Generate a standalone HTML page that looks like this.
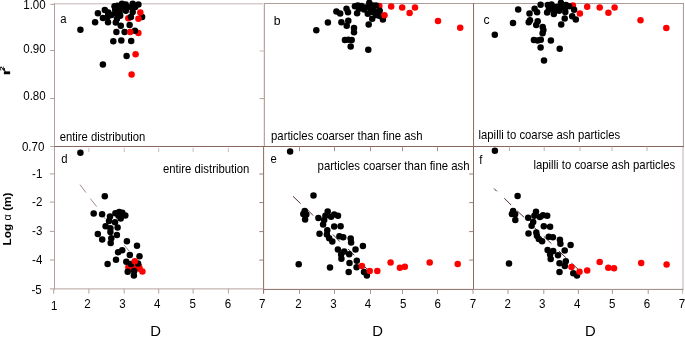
<!DOCTYPE html>
<html><head><meta charset="utf-8"><title>figure</title>
<style>
html,body{margin:0;padding:0;background:#fff;}
svg{display:block;}
text{font-family:"Liberation Sans",sans-serif;fill:#000;}
</style></head><body>
<svg width="685" height="337" viewBox="0 0 685 337">
<rect width="685" height="337" fill="#fff"/>
<line x1="54" y1="3.8" x2="264.5" y2="3.8" stroke="#c4b8b5" stroke-width="1" />
<line x1="264.5" y1="3.5" x2="683.9" y2="3.5" stroke="#ad9c99" stroke-width="1" />
<line x1="54.5" y1="3.3" x2="54.5" y2="289.4" stroke="#b3a09c" stroke-width="1" />
<line x1="264.5" y1="3.0" x2="264.5" y2="146.5" stroke="#b6a5a3" stroke-width="1" />
<line x1="263.5" y1="3.0" x2="263.5" y2="146.5" stroke="#efe9e8" stroke-width="1" />
<line x1="473.55" y1="3.0" x2="473.55" y2="146.5" stroke="#8a6a63" stroke-width="1" />
<line x1="263.6" y1="146.5" x2="263.6" y2="293.8" stroke="#8a6a63" stroke-width="1" />
<line x1="473.5" y1="146.5" x2="473.5" y2="289.4" stroke="#8a6a63" stroke-width="1" />
<line x1="473.0" y1="289.4" x2="473.0" y2="293.8" stroke="#a8948f" stroke-width="1" />
<line x1="683.4" y1="3.0" x2="683.4" y2="146.5" stroke="#a89492" stroke-width="1" />
<line x1="683.0" y1="146.5" x2="683.0" y2="289.4" stroke="#bfb0ad" stroke-width="1" />
<line x1="682.6" y1="289.4" x2="682.6" y2="293.8" stroke="#bfb0ad" stroke-width="1" />
<line x1="54" y1="146.5" x2="683.9" y2="146.5" stroke="#86665e" stroke-width="1" />
<line x1="54" y1="288.9" x2="263.6" y2="288.9" stroke="#b3a29e" stroke-width="1" />
<line x1="263.6" y1="289.4" x2="473.5" y2="289.4" stroke="#8a6a63" stroke-width="1" />
<line x1="473.5" y1="289.4" x2="683.4" y2="289.4" stroke="#9a8682" stroke-width="1" />
<line x1="50.3" y1="4.4" x2="54.5" y2="4.4" stroke="#b3a09c" stroke-width="1" />
<line x1="50.3" y1="50.5" x2="54.5" y2="50.5" stroke="#b3a09c" stroke-width="1" />
<line x1="50.3" y1="98.5" x2="54.5" y2="98.5" stroke="#b3a09c" stroke-width="1" />
<line x1="50.3" y1="146.5" x2="54.5" y2="146.5" stroke="#b3a09c" stroke-width="1" />
<line x1="49.8" y1="173.9" x2="54.5" y2="173.9" stroke="#b3a09c" stroke-width="1" />
<line x1="49.8" y1="202.1" x2="54.5" y2="202.1" stroke="#b3a09c" stroke-width="1" />
<line x1="49.8" y1="231.4" x2="54.5" y2="231.4" stroke="#b3a09c" stroke-width="1" />
<line x1="49.8" y1="260.0" x2="54.5" y2="260.0" stroke="#b3a09c" stroke-width="1" />
<line x1="49.8" y1="288.9" x2="54.5" y2="288.9" stroke="#b3a09c" stroke-width="1" />
<line x1="53.7" y1="289" x2="53.7" y2="293.8" stroke="#b3a09c" stroke-width="1" />
<line x1="259.3" y1="174.0" x2="263.6" y2="174.0" stroke="#9a7f79" stroke-width="1" />
<line x1="259.3" y1="202.6" x2="263.6" y2="202.6" stroke="#9a7f79" stroke-width="1" />
<line x1="259.3" y1="231.6" x2="263.6" y2="231.6" stroke="#9a7f79" stroke-width="1" />
<line x1="259.3" y1="260.1" x2="263.6" y2="260.1" stroke="#9a7f79" stroke-width="1" />
<line x1="469.2" y1="174.0" x2="473.5" y2="174.0" stroke="#9a7f79" stroke-width="1" />
<line x1="469.2" y1="202.6" x2="473.5" y2="202.6" stroke="#9a7f79" stroke-width="1" />
<line x1="469.2" y1="231.6" x2="473.5" y2="231.6" stroke="#9a7f79" stroke-width="1" />
<line x1="469.2" y1="260.1" x2="473.5" y2="260.1" stroke="#9a7f79" stroke-width="1" />
<line x1="259.6" y1="51.0" x2="264.5" y2="51.0" stroke="#c5b8b5" stroke-width="1" />
<line x1="259.6" y1="98.6" x2="264.5" y2="98.6" stroke="#b3a09c" stroke-width="1" />
<line x1="88.9" y1="147.8" x2="88.9" y2="152.0" stroke="#c9bdba" stroke-width="1" />
<line x1="124.2" y1="147.8" x2="124.2" y2="152.0" stroke="#c9bdba" stroke-width="1" />
<line x1="158.7" y1="147.8" x2="158.7" y2="152.0" stroke="#c9bdba" stroke-width="1" />
<line x1="193.1" y1="147.8" x2="193.1" y2="152.0" stroke="#c9bdba" stroke-width="1" />
<line x1="228.4" y1="147.8" x2="228.4" y2="152.0" stroke="#c9bdba" stroke-width="1" />
<line x1="299.5" y1="146.5" x2="299.5" y2="151.2" stroke="#a88f89" stroke-width="1" />
<line x1="334.5" y1="146.5" x2="334.5" y2="151.2" stroke="#a88f89" stroke-width="1" />
<line x1="370.5" y1="146.5" x2="370.5" y2="151.2" stroke="#a88f89" stroke-width="1" />
<line x1="402.5" y1="146.5" x2="402.5" y2="151.2" stroke="#a88f89" stroke-width="1" />
<line x1="437.5" y1="146.5" x2="437.5" y2="151.2" stroke="#a88f89" stroke-width="1" />
<line x1="509.5" y1="146.5" x2="509.5" y2="151.0" stroke="#c2aea9" stroke-width="1" />
<line x1="544.2" y1="146.5" x2="544.2" y2="151.0" stroke="#c2aea9" stroke-width="1" />
<line x1="580.0" y1="146.5" x2="580.0" y2="151.0" stroke="#c2aea9" stroke-width="1" />
<line x1="612.0" y1="146.5" x2="612.0" y2="151.0" stroke="#c2aea9" stroke-width="1" />
<line x1="647.0" y1="146.5" x2="647.0" y2="151.0" stroke="#c2aea9" stroke-width="1" />
<line x1="88.9" y1="288.9" x2="88.9" y2="293.6" stroke="#b3a29e" stroke-width="1" />
<line x1="124.2" y1="288.9" x2="124.2" y2="293.6" stroke="#b3a29e" stroke-width="1" />
<line x1="158.7" y1="288.9" x2="158.7" y2="293.6" stroke="#b3a29e" stroke-width="1" />
<line x1="193.1" y1="288.9" x2="193.1" y2="293.6" stroke="#b3a29e" stroke-width="1" />
<line x1="228.4" y1="288.9" x2="228.4" y2="293.6" stroke="#b3a29e" stroke-width="1" />
<line x1="299.5" y1="289.4" x2="299.5" y2="293.8" stroke="#a8948f" stroke-width="1" />
<line x1="334.5" y1="289.4" x2="334.5" y2="293.8" stroke="#a8948f" stroke-width="1" />
<line x1="370.5" y1="289.4" x2="370.5" y2="293.8" stroke="#a8948f" stroke-width="1" />
<line x1="402.5" y1="289.4" x2="402.5" y2="293.8" stroke="#a8948f" stroke-width="1" />
<line x1="437.5" y1="289.4" x2="437.5" y2="293.8" stroke="#a8948f" stroke-width="1" />
<line x1="508.0" y1="289.4" x2="508.0" y2="293.8" stroke="#a8948f" stroke-width="1" />
<line x1="543.8" y1="289.4" x2="543.8" y2="293.8" stroke="#a8948f" stroke-width="1" />
<line x1="578.4" y1="289.4" x2="578.4" y2="293.8" stroke="#a8948f" stroke-width="1" />
<line x1="612.4" y1="289.4" x2="612.4" y2="293.8" stroke="#a8948f" stroke-width="1" />
<line x1="648.2" y1="289.4" x2="648.2" y2="293.8" stroke="#a8948f" stroke-width="1" />
<line x1="80" y1="184.6" x2="85.9" y2="192.6" stroke="#8a7068" stroke-width="0.8" />
<line x1="90.3" y1="198.6" x2="96.6" y2="206.6" stroke="#8a7068" stroke-width="0.8" />
<line x1="102.2" y1="214.5" x2="105.4" y2="219" stroke="#8a7068" stroke-width="0.8" />
<line x1="124.1" y1="244.8" x2="129.2" y2="251.3" stroke="#8a7068" stroke-width="0.8" />
<line x1="293" y1="196.3" x2="300.6" y2="203.6" stroke="#50302b" stroke-width="1.0" />
<line x1="306.6" y1="208.9" x2="313.1" y2="215.5" stroke="#50302b" stroke-width="1.0" />
<line x1="332.9" y1="234.5" x2="339.8" y2="241.6" stroke="#50302b" stroke-width="1.0" />
<line x1="348" y1="248.9" x2="354.3" y2="255.2" stroke="#50302b" stroke-width="1.0" />
<line x1="361" y1="263" x2="367.6" y2="269.6" stroke="#50302b" stroke-width="1.0" />
<line x1="494" y1="188.5" x2="496.8" y2="191.3" stroke="#50302b" stroke-width="1.0" />
<line x1="504.3" y1="198.2" x2="511.2" y2="205.1" stroke="#50302b" stroke-width="1.0" />
<line x1="517.1" y1="210.8" x2="524.2" y2="217.4" stroke="#50302b" stroke-width="1.0" />
<line x1="534.4" y1="227.6" x2="538.8" y2="232" stroke="#50302b" stroke-width="1.0" />
<line x1="543.8" y1="236.4" x2="551.4" y2="243.6" stroke="#50302b" stroke-width="1.0" />
<line x1="558.9" y1="251" x2="565.8" y2="257.6" stroke="#50302b" stroke-width="1.0" />
<line x1="571.4" y1="263" x2="578.4" y2="269.5" stroke="#50302b" stroke-width="1.0" />
<circle cx="128.3" cy="18.2" r="3.25" fill="#fe0000"/>
<circle cx="138.4" cy="32.9" r="3.25" fill="#fe0000"/>
<circle cx="80.4" cy="29.7" r="3.25" fill="#000"/>
<circle cx="95.1" cy="22.3" r="3.25" fill="#000"/>
<circle cx="97.9" cy="13.2" r="3.25" fill="#000"/>
<circle cx="102.9" cy="17.9" r="3.25" fill="#000"/>
<circle cx="104.8" cy="10.0" r="3.25" fill="#000"/>
<circle cx="108.3" cy="12.5" r="3.25" fill="#000"/>
<circle cx="107.6" cy="16.9" r="3.25" fill="#000"/>
<circle cx="108" cy="22.3" r="3.25" fill="#000"/>
<circle cx="111.4" cy="15.1" r="3.25" fill="#000"/>
<circle cx="114.5" cy="6.3" r="3.25" fill="#000"/>
<circle cx="115.2" cy="10" r="3.25" fill="#000"/>
<circle cx="115.8" cy="22.6" r="3.25" fill="#000"/>
<circle cx="117" cy="18.8" r="3.25" fill="#000"/>
<circle cx="120.2" cy="15.7" r="3.25" fill="#000"/>
<circle cx="119.6" cy="11.9" r="3.25" fill="#000"/>
<circle cx="120.8" cy="25.7" r="3.25" fill="#000"/>
<circle cx="122" cy="3.8" r="3.25" fill="#000"/>
<circle cx="122.7" cy="7.5" r="3.25" fill="#000"/>
<circle cx="125.8" cy="10.7" r="3.25" fill="#000"/>
<circle cx="127.7" cy="6.9" r="3.25" fill="#000"/>
<circle cx="130.9" cy="16.9" r="3.25" fill="#000"/>
<circle cx="129.6" cy="25.1" r="3.25" fill="#000"/>
<circle cx="132.7" cy="3.8" r="3.25" fill="#000"/>
<circle cx="132.1" cy="7.5" r="3.25" fill="#000"/>
<circle cx="132.7" cy="11.9" r="3.25" fill="#000"/>
<circle cx="135.2" cy="6.9" r="3.25" fill="#000"/>
<circle cx="138.4" cy="4.4" r="3.25" fill="#000"/>
<circle cx="142.1" cy="16.9" r="3.25" fill="#000"/>
<circle cx="116.4" cy="32" r="3.25" fill="#000"/>
<circle cx="124.6" cy="32" r="3.25" fill="#000"/>
<circle cx="134.9" cy="30.7" r="3.25" fill="#000"/>
<circle cx="113.3" cy="41.2" r="3.25" fill="#000"/>
<circle cx="121.3" cy="40.6" r="3.25" fill="#000"/>
<circle cx="131.2" cy="41" r="3.25" fill="#000"/>
<circle cx="126.6" cy="55.9" r="3.25" fill="#000"/>
<circle cx="102.9" cy="64.5" r="3.25" fill="#000"/>
<circle cx="117.3" cy="5.8" r="3.25" fill="#000"/>
<circle cx="125.7" cy="4.6" r="3.25" fill="#000"/>
<circle cx="108.3" cy="14.9" r="3.25" fill="#000"/>
<circle cx="116.2" cy="13.2" r="3.25" fill="#000"/>
<circle cx="118.4" cy="8.9" r="3.25" fill="#000"/>
<circle cx="140.3" cy="12.5" r="3.25" fill="#fe0000"/>
<circle cx="138.4" cy="18.8" r="3.25" fill="#fe0000"/>
<circle cx="130.2" cy="32" r="3.25" fill="#fe0000"/>
<circle cx="135.6" cy="54.3" r="3.25" fill="#fe0000"/>
<circle cx="131.6" cy="74.4" r="3.25" fill="#fe0000"/>
<circle cx="379.3" cy="6.1" r="3.25" fill="#fe0000"/>
<circle cx="316.3" cy="30.3" r="3.25" fill="#000"/>
<circle cx="327.9" cy="22.6" r="3.25" fill="#000"/>
<circle cx="336.4" cy="11.6" r="3.25" fill="#000"/>
<circle cx="340.2" cy="13.6" r="3.25" fill="#000"/>
<circle cx="341.4" cy="22.3" r="3.25" fill="#000"/>
<circle cx="346.5" cy="8.8" r="3.25" fill="#000"/>
<circle cx="348" cy="12.3" r="3.25" fill="#000"/>
<circle cx="348.3" cy="20.7" r="3.25" fill="#000"/>
<circle cx="346.7" cy="25.7" r="3.25" fill="#000"/>
<circle cx="354" cy="27.9" r="3.25" fill="#000"/>
<circle cx="354" cy="32.2" r="3.25" fill="#000"/>
<circle cx="344.9" cy="40" r="3.25" fill="#000"/>
<circle cx="348.3" cy="39.8" r="3.25" fill="#000"/>
<circle cx="351.7" cy="40" r="3.25" fill="#000"/>
<circle cx="354.9" cy="6.3" r="3.25" fill="#000"/>
<circle cx="357.8" cy="5.6" r="3.25" fill="#000"/>
<circle cx="361.5" cy="6" r="3.25" fill="#000"/>
<circle cx="357.1" cy="13.2" r="3.25" fill="#000"/>
<circle cx="359" cy="8.8" r="3.25" fill="#000"/>
<circle cx="365.3" cy="7.5" r="3.25" fill="#000"/>
<circle cx="369.3" cy="2.8" r="3.25" fill="#000"/>
<circle cx="369.1" cy="6.3" r="3.25" fill="#000"/>
<circle cx="367.8" cy="13.8" r="3.25" fill="#000"/>
<circle cx="368.7" cy="24.5" r="3.25" fill="#000"/>
<circle cx="372.2" cy="18.8" r="3.25" fill="#000"/>
<circle cx="372.8" cy="5.6" r="3.25" fill="#000"/>
<circle cx="372.8" cy="11.9" r="3.25" fill="#000"/>
<circle cx="376" cy="5.6" r="3.25" fill="#000"/>
<circle cx="376" cy="15" r="3.25" fill="#000"/>
<circle cx="379.7" cy="10.7" r="3.25" fill="#000"/>
<circle cx="379.1" cy="15.7" r="3.25" fill="#000"/>
<circle cx="382.9" cy="19.5" r="3.25" fill="#000"/>
<circle cx="350.7" cy="46.6" r="3.25" fill="#000"/>
<circle cx="368.3" cy="49.7" r="3.25" fill="#000"/>
<circle cx="364.1" cy="9.5" r="3.25" fill="#000"/>
<circle cx="370.8" cy="9.6" r="3.25" fill="#000"/>
<circle cx="373.9" cy="11.0" r="3.25" fill="#000"/>
<circle cx="384.5" cy="15.2" r="3.25" fill="#fe0000"/>
<circle cx="391.2" cy="6.5" r="3.25" fill="#fe0000"/>
<circle cx="402.2" cy="7.4" r="3.25" fill="#fe0000"/>
<circle cx="409.6" cy="13" r="3.25" fill="#fe0000"/>
<circle cx="415" cy="7.5" r="3.25" fill="#fe0000"/>
<circle cx="438" cy="21.0" r="3.25" fill="#fe0000"/>
<circle cx="460.2" cy="27.7" r="3.25" fill="#fe0000"/>
<circle cx="572.9" cy="5.4" r="3.25" fill="#fe0000"/>
<circle cx="494.8" cy="34.8" r="3.25" fill="#000"/>
<circle cx="513" cy="23" r="3.25" fill="#000"/>
<circle cx="518.2" cy="9.4" r="3.25" fill="#000"/>
<circle cx="529.5" cy="13.6" r="3.25" fill="#000"/>
<circle cx="528.7" cy="22.3" r="3.25" fill="#000"/>
<circle cx="530.0" cy="20.3" r="3.25" fill="#000"/>
<circle cx="534.6" cy="8.8" r="3.25" fill="#000"/>
<circle cx="537.1" cy="12.3" r="3.25" fill="#000"/>
<circle cx="537.7" cy="21.3" r="3.25" fill="#000"/>
<circle cx="536.2" cy="25.1" r="3.25" fill="#000"/>
<circle cx="540.6" cy="4.8" r="3.25" fill="#000"/>
<circle cx="542.7" cy="27" r="3.25" fill="#000"/>
<circle cx="543.4" cy="30.1" r="3.25" fill="#000"/>
<circle cx="542.6" cy="33.3" r="3.25" fill="#000"/>
<circle cx="533.9" cy="40" r="3.25" fill="#000"/>
<circle cx="537.6" cy="40.5" r="3.25" fill="#000"/>
<circle cx="540.8" cy="39.7" r="3.25" fill="#000"/>
<circle cx="550.9" cy="40.5" r="3.25" fill="#000"/>
<circle cx="547.1" cy="12.6" r="3.25" fill="#000"/>
<circle cx="547.8" cy="5" r="3.25" fill="#000"/>
<circle cx="551.5" cy="4.4" r="3.25" fill="#000"/>
<circle cx="551.5" cy="8.2" r="3.25" fill="#000"/>
<circle cx="553.8" cy="14.1" r="3.25" fill="#000"/>
<circle cx="556.5" cy="6.9" r="3.25" fill="#000"/>
<circle cx="559.1" cy="10.7" r="3.25" fill="#000"/>
<circle cx="560.9" cy="2.8" r="3.25" fill="#000"/>
<circle cx="561.6" cy="6.3" r="3.25" fill="#000"/>
<circle cx="561.2" cy="24.5" r="3.25" fill="#000"/>
<circle cx="564.7" cy="18.6" r="3.25" fill="#000"/>
<circle cx="565.3" cy="11.9" r="3.25" fill="#000"/>
<circle cx="566" cy="5" r="3.25" fill="#000"/>
<circle cx="569.1" cy="6.3" r="3.25" fill="#000"/>
<circle cx="572.2" cy="16.3" r="3.25" fill="#000"/>
<circle cx="574.1" cy="9.7" r="3.25" fill="#000"/>
<circle cx="575.8" cy="19.5" r="3.25" fill="#000"/>
<circle cx="540.6" cy="47.6" r="3.25" fill="#000"/>
<circle cx="559.7" cy="48.8" r="3.25" fill="#000"/>
<circle cx="544" cy="60.5" r="3.25" fill="#000"/>
<circle cx="548.9" cy="9.4" r="3.25" fill="#000"/>
<circle cx="560.0" cy="8.3" r="3.25" fill="#000"/>
<circle cx="564.9" cy="8.0" r="3.25" fill="#000"/>
<circle cx="555.0" cy="10.0" r="3.25" fill="#000"/>
<circle cx="579.9" cy="13.5" r="3.25" fill="#fe0000"/>
<circle cx="587.2" cy="6.7" r="3.25" fill="#fe0000"/>
<circle cx="599.7" cy="7.4" r="3.25" fill="#fe0000"/>
<circle cx="608.4" cy="12.8" r="3.25" fill="#fe0000"/>
<circle cx="614.6" cy="7.4" r="3.25" fill="#fe0000"/>
<circle cx="640.5" cy="20.3" r="3.25" fill="#fe0000"/>
<circle cx="666.3" cy="28" r="3.25" fill="#fe0000"/>
<circle cx="128.4" cy="267.3" r="3.25" fill="#fe0000"/>
<circle cx="139" cy="266.3" r="3.25" fill="#fe0000"/>
<circle cx="134.1" cy="267.6" r="3.25" fill="#fe0000"/>
<circle cx="139.6" cy="268.8" r="3.25" fill="#fe0000"/>
<circle cx="131.5" cy="268.3" r="3.25" fill="#fe0000"/>
<circle cx="80.4" cy="152.7" r="3.25" fill="#000"/>
<circle cx="104.8" cy="196.3" r="3.25" fill="#000"/>
<circle cx="93.7" cy="213.5" r="3.25" fill="#000"/>
<circle cx="102.1" cy="214.2" r="3.25" fill="#000"/>
<circle cx="110" cy="216.5" r="3.25" fill="#000"/>
<circle cx="115.4" cy="213.3" r="3.25" fill="#000"/>
<circle cx="119.2" cy="212" r="3.25" fill="#000"/>
<circle cx="122.3" cy="212.7" r="3.25" fill="#000"/>
<circle cx="125.3" cy="215.6" r="3.25" fill="#000"/>
<circle cx="120.7" cy="218.5" r="3.25" fill="#000"/>
<circle cx="118.5" cy="215.7" r="3.25" fill="#000"/>
<circle cx="109" cy="221" r="3.25" fill="#000"/>
<circle cx="115" cy="222.2" r="3.25" fill="#000"/>
<circle cx="105.6" cy="226.3" r="3.25" fill="#000"/>
<circle cx="110.4" cy="228.2" r="3.25" fill="#000"/>
<circle cx="117.6" cy="227.6" r="3.25" fill="#000"/>
<circle cx="110.4" cy="232" r="3.25" fill="#000"/>
<circle cx="116.9" cy="235" r="3.25" fill="#000"/>
<circle cx="97.8" cy="233.9" r="3.25" fill="#000"/>
<circle cx="102.2" cy="239.4" r="3.25" fill="#000"/>
<circle cx="111.3" cy="238.2" r="3.25" fill="#000"/>
<circle cx="110.7" cy="243" r="3.25" fill="#000"/>
<circle cx="126.9" cy="241.3" r="3.25" fill="#000"/>
<circle cx="137" cy="245.7" r="3.25" fill="#000"/>
<circle cx="122.2" cy="250.3" r="3.25" fill="#000"/>
<circle cx="118.1" cy="252.2" r="3.25" fill="#000"/>
<circle cx="129.8" cy="255.1" r="3.25" fill="#000"/>
<circle cx="139.5" cy="256.3" r="3.25" fill="#000"/>
<circle cx="116" cy="259.7" r="3.25" fill="#000"/>
<circle cx="107.6" cy="264.1" r="3.25" fill="#000"/>
<circle cx="126.3" cy="261.7" r="3.25" fill="#000"/>
<circle cx="131" cy="263.9" r="3.25" fill="#000"/>
<circle cx="138" cy="263.6" r="3.25" fill="#000"/>
<circle cx="127.7" cy="271.8" r="3.25" fill="#000"/>
<circle cx="134.2" cy="271" r="3.25" fill="#000"/>
<circle cx="133.9" cy="275.6" r="3.25" fill="#000"/>
<circle cx="134.8" cy="261.2" r="3.25" fill="#fe0000"/>
<circle cx="142.4" cy="271.5" r="3.25" fill="#fe0000"/>
<circle cx="290.1" cy="151.6" r="3.25" fill="#000"/>
<circle cx="313.5" cy="195.4" r="3.25" fill="#000"/>
<circle cx="304.7" cy="211" r="3.25" fill="#000"/>
<circle cx="303.3" cy="214" r="3.25" fill="#000"/>
<circle cx="306.3" cy="214.5" r="3.25" fill="#000"/>
<circle cx="305.1" cy="219.5" r="3.25" fill="#000"/>
<circle cx="318.4" cy="218" r="3.25" fill="#000"/>
<circle cx="327.7" cy="211.6" r="3.25" fill="#000"/>
<circle cx="325.4" cy="215.8" r="3.25" fill="#000"/>
<circle cx="331.1" cy="216.7" r="3.25" fill="#000"/>
<circle cx="334.2" cy="214.5" r="3.25" fill="#000"/>
<circle cx="338" cy="215.7" r="3.25" fill="#000"/>
<circle cx="324.2" cy="220.1" r="3.25" fill="#000"/>
<circle cx="323.1" cy="224.4" r="3.25" fill="#000"/>
<circle cx="334.2" cy="226.6" r="3.25" fill="#000"/>
<circle cx="340.6" cy="226.3" r="3.25" fill="#000"/>
<circle cx="327.3" cy="230.3" r="3.25" fill="#000"/>
<circle cx="319.5" cy="233.8" r="3.25" fill="#000"/>
<circle cx="326.9" cy="234.5" r="3.25" fill="#000"/>
<circle cx="329.2" cy="238.2" r="3.25" fill="#000"/>
<circle cx="332.3" cy="241.6" r="3.25" fill="#000"/>
<circle cx="339.4" cy="236.3" r="3.25" fill="#000"/>
<circle cx="343.2" cy="237.3" r="3.25" fill="#000"/>
<circle cx="350.7" cy="238.6" r="3.25" fill="#000"/>
<circle cx="351.1" cy="242.6" r="3.25" fill="#000"/>
<circle cx="362.9" cy="246.1" r="3.25" fill="#000"/>
<circle cx="355.5" cy="249.5" r="3.25" fill="#000"/>
<circle cx="337.9" cy="249.5" r="3.25" fill="#000"/>
<circle cx="344.2" cy="251.4" r="3.25" fill="#000"/>
<circle cx="341.1" cy="254.5" r="3.25" fill="#000"/>
<circle cx="349.2" cy="254.3" r="3.25" fill="#000"/>
<circle cx="341.4" cy="258.8" r="3.25" fill="#000"/>
<circle cx="349.5" cy="263" r="3.25" fill="#000"/>
<circle cx="356.8" cy="260.8" r="3.25" fill="#000"/>
<circle cx="356.6" cy="267.3" r="3.25" fill="#000"/>
<circle cx="348.7" cy="272" r="3.25" fill="#000"/>
<circle cx="364" cy="272.1" r="3.25" fill="#000"/>
<circle cx="366.9" cy="275.6" r="3.25" fill="#000"/>
<circle cx="298.7" cy="264.2" r="3.25" fill="#000"/>
<circle cx="330" cy="267.6" r="3.25" fill="#000"/>
<circle cx="361.9" cy="266" r="3.25" fill="#fe0000"/>
<circle cx="369.7" cy="270.9" r="3.25" fill="#fe0000"/>
<circle cx="377.3" cy="270.9" r="3.25" fill="#fe0000"/>
<circle cx="390.6" cy="262.5" r="3.25" fill="#fe0000"/>
<circle cx="399.9" cy="267.8" r="3.25" fill="#fe0000"/>
<circle cx="404.8" cy="266.7" r="3.25" fill="#fe0000"/>
<circle cx="429.7" cy="262.5" r="3.25" fill="#fe0000"/>
<circle cx="457.7" cy="263.9" r="3.25" fill="#fe0000"/>
<circle cx="494.9" cy="150.8" r="3.25" fill="#000"/>
<circle cx="517.6" cy="195.9" r="3.25" fill="#000"/>
<circle cx="513.1" cy="211.1" r="3.25" fill="#000"/>
<circle cx="511.9" cy="214" r="3.25" fill="#000"/>
<circle cx="515.1" cy="214.3" r="3.25" fill="#000"/>
<circle cx="515.3" cy="220.1" r="3.25" fill="#000"/>
<circle cx="528.2" cy="217.7" r="3.25" fill="#000"/>
<circle cx="536" cy="211.8" r="3.25" fill="#000"/>
<circle cx="534.4" cy="215.7" r="3.25" fill="#000"/>
<circle cx="539.9" cy="217" r="3.25" fill="#000"/>
<circle cx="543" cy="215.2" r="3.25" fill="#000"/>
<circle cx="547.2" cy="215.8" r="3.25" fill="#000"/>
<circle cx="533.2" cy="222" r="3.25" fill="#000"/>
<circle cx="531.6" cy="225.7" r="3.25" fill="#000"/>
<circle cx="543.8" cy="226.3" r="3.25" fill="#000"/>
<circle cx="550.1" cy="226.7" r="3.25" fill="#000"/>
<circle cx="528.5" cy="233.5" r="3.25" fill="#000"/>
<circle cx="536.3" cy="232.6" r="3.25" fill="#000"/>
<circle cx="536.9" cy="235.7" r="3.25" fill="#000"/>
<circle cx="538.8" cy="238.9" r="3.25" fill="#000"/>
<circle cx="542.1" cy="241.2" r="3.25" fill="#000"/>
<circle cx="548.8" cy="236.7" r="3.25" fill="#000"/>
<circle cx="552.9" cy="237.2" r="3.25" fill="#000"/>
<circle cx="559.9" cy="239.8" r="3.25" fill="#000"/>
<circle cx="560.4" cy="243.7" r="3.25" fill="#000"/>
<circle cx="570.6" cy="245" r="3.25" fill="#000"/>
<circle cx="547.6" cy="250" r="3.25" fill="#000"/>
<circle cx="553.2" cy="251" r="3.25" fill="#000"/>
<circle cx="564.7" cy="250.5" r="3.25" fill="#000"/>
<circle cx="550.1" cy="254.4" r="3.25" fill="#000"/>
<circle cx="558" cy="255.3" r="3.25" fill="#000"/>
<circle cx="550.7" cy="259.1" r="3.25" fill="#000"/>
<circle cx="559.5" cy="263.2" r="3.25" fill="#000"/>
<circle cx="565.8" cy="261.3" r="3.25" fill="#000"/>
<circle cx="564.8" cy="266" r="3.25" fill="#000"/>
<circle cx="559.5" cy="272" r="3.25" fill="#000"/>
<circle cx="573.3" cy="273.2" r="3.25" fill="#000"/>
<circle cx="577" cy="275.6" r="3.25" fill="#000"/>
<circle cx="509" cy="263.5" r="3.25" fill="#000"/>
<circle cx="571.5" cy="267" r="3.25" fill="#fe0000"/>
<circle cx="579.5" cy="271.7" r="3.25" fill="#fe0000"/>
<circle cx="587.2" cy="270.4" r="3.25" fill="#fe0000"/>
<circle cx="599.7" cy="262" r="3.25" fill="#fe0000"/>
<circle cx="608.3" cy="267.8" r="3.25" fill="#fe0000"/>
<circle cx="614" cy="268.3" r="3.25" fill="#fe0000"/>
<circle cx="641.2" cy="262.9" r="3.25" fill="#fe0000"/>
<circle cx="666.6" cy="264.6" r="3.25" fill="#fe0000"/>
<text transform="translate(45.7,9.4) scale(0.85,1)" font-size="13.6" text-anchor="end" >1.00</text>
<text transform="translate(45.7,53.4) scale(0.85,1)" font-size="13.6" text-anchor="end" >0.90</text>
<text transform="translate(45.7,99.9) scale(0.85,1)" font-size="13.6" text-anchor="end" >0.80</text>
<text transform="translate(44.4,151.4) scale(0.85,1)" font-size="13.6" text-anchor="end" >0.70</text>
<text transform="translate(42.4,177.5) scale(0.85,1)" font-size="13.6" text-anchor="end" >-1</text>
<text transform="translate(42.4,206.2) scale(0.85,1)" font-size="13.6" text-anchor="end" >-2</text>
<text transform="translate(42.4,235.2) scale(0.85,1)" font-size="13.6" text-anchor="end" >-3</text>
<text transform="translate(42.4,264.20000000000005) scale(0.85,1)" font-size="13.6" text-anchor="end" >-4</text>
<text transform="translate(41.8,294.2) scale(0.85,1)" font-size="13.6" text-anchor="end" >-5</text>
<text transform="translate(87.4,308.0) scale(0.85,1)" font-size="13.6" text-anchor="middle" >2</text>
<text transform="translate(122.4,308.0) scale(0.85,1)" font-size="13.6" text-anchor="middle" >3</text>
<text transform="translate(157.3,308.0) scale(0.85,1)" font-size="13.6" text-anchor="middle" >4</text>
<text transform="translate(192.7,308.0) scale(0.85,1)" font-size="13.6" text-anchor="middle" >5</text>
<text transform="translate(228.0,308.0) scale(0.85,1)" font-size="13.6" text-anchor="middle" >6</text>
<text transform="translate(262.2,308.0) scale(0.85,1)" font-size="13.6" text-anchor="middle" >7</text>
<text transform="translate(54.1,310.3) scale(0.85,1)" font-size="13.6" text-anchor="middle" >1</text>
<text transform="translate(298.5,308.0) scale(0.85,1)" font-size="13.6" text-anchor="middle" >2</text>
<text transform="translate(333.5,308.0) scale(0.85,1)" font-size="13.6" text-anchor="middle" >3</text>
<text transform="translate(368.0,308.0) scale(0.85,1)" font-size="13.6" text-anchor="middle" >4</text>
<text transform="translate(403.2,308.0) scale(0.85,1)" font-size="13.6" text-anchor="middle" >5</text>
<text transform="translate(437.6,308.0) scale(0.85,1)" font-size="13.6" text-anchor="middle" >6</text>
<text transform="translate(473.0,308.0) scale(0.85,1)" font-size="13.6" text-anchor="middle" >7</text>
<text transform="translate(507.6,308.0) scale(0.85,1)" font-size="13.6" text-anchor="middle" >2</text>
<text transform="translate(542.3,308.0) scale(0.85,1)" font-size="13.6" text-anchor="middle" >3</text>
<text transform="translate(577.1,308.0) scale(0.85,1)" font-size="13.6" text-anchor="middle" >4</text>
<text transform="translate(612.3,308.0) scale(0.85,1)" font-size="13.6" text-anchor="middle" >5</text>
<text transform="translate(647.0,308.0) scale(0.85,1)" font-size="13.6" text-anchor="middle" >6</text>
<text transform="translate(681.9,308.0) scale(0.85,1)" font-size="13.6" text-anchor="middle" >7</text>
<text transform="translate(155.7,336.4) scale(1.06,1)" font-size="14" text-anchor="middle" >D</text>
<text transform="translate(377.6,336.4) scale(1.06,1)" font-size="14" text-anchor="middle" >D</text>
<text transform="translate(590.4,336.4) scale(1.06,1)" font-size="14" text-anchor="middle" >D</text>
<text transform="translate(60.3,22.6) scale(0.85,1)" font-size="13.3" text-anchor="start" >a</text>
<text transform="translate(273.8,24.8) scale(0.92,1)" font-size="13.3" text-anchor="start" >b</text>
<text transform="translate(483.5,24.2) scale(0.92,1)" font-size="13.3" text-anchor="start" >c</text>
<text transform="translate(61.2,162.9) scale(0.85,1)" font-size="13.3" text-anchor="start" >d</text>
<text transform="translate(270.6,163.2) scale(0.92,1)" font-size="12.2" text-anchor="start" >e</text>
<text transform="translate(479.3,163.5) scale(0.85,1)" font-size="13.3" text-anchor="start" >f</text>
<text x="59.7" y="141.0" font-size="13.2" textLength="85.7" lengthAdjust="spacingAndGlyphs" >entire distribution</text>
<text x="271.0" y="139.8" font-size="13.2" textLength="151.6" lengthAdjust="spacingAndGlyphs" >particles coarser than fine ash</text>
<text x="478.5" y="139.2" font-size="13.2" textLength="141.6" lengthAdjust="spacingAndGlyphs" >lapilli to coarse ash particles</text>
<text x="163.0" y="173.0" font-size="13.2" textLength="86.4" lengthAdjust="spacingAndGlyphs" >entire distribution</text>
<text x="317.6" y="170.0" font-size="13.2" textLength="152.0" lengthAdjust="spacingAndGlyphs" >particles coarser than fine ash</text>
<text x="533.4" y="168.8" font-size="13.2" textLength="141.9" lengthAdjust="spacingAndGlyphs" >lapilli to coarse ash particles</text>
<text transform="translate(9.9,75.6) rotate(-90) scale(2.15,1)" font-size="10.8" stroke="#000" stroke-width="0.25">r</text>
<text transform="translate(3.7,71.0) rotate(-90) scale(1.7,1)" font-size="5.2" font-weight="bold">2</text>
<text transform="translate(11.2,245.4) rotate(-90)" font-size="11.8" font-weight="bold">Log <tspan font-weight="normal" font-size="11">α</tspan> (m)</text>
</svg>
</body></html>
